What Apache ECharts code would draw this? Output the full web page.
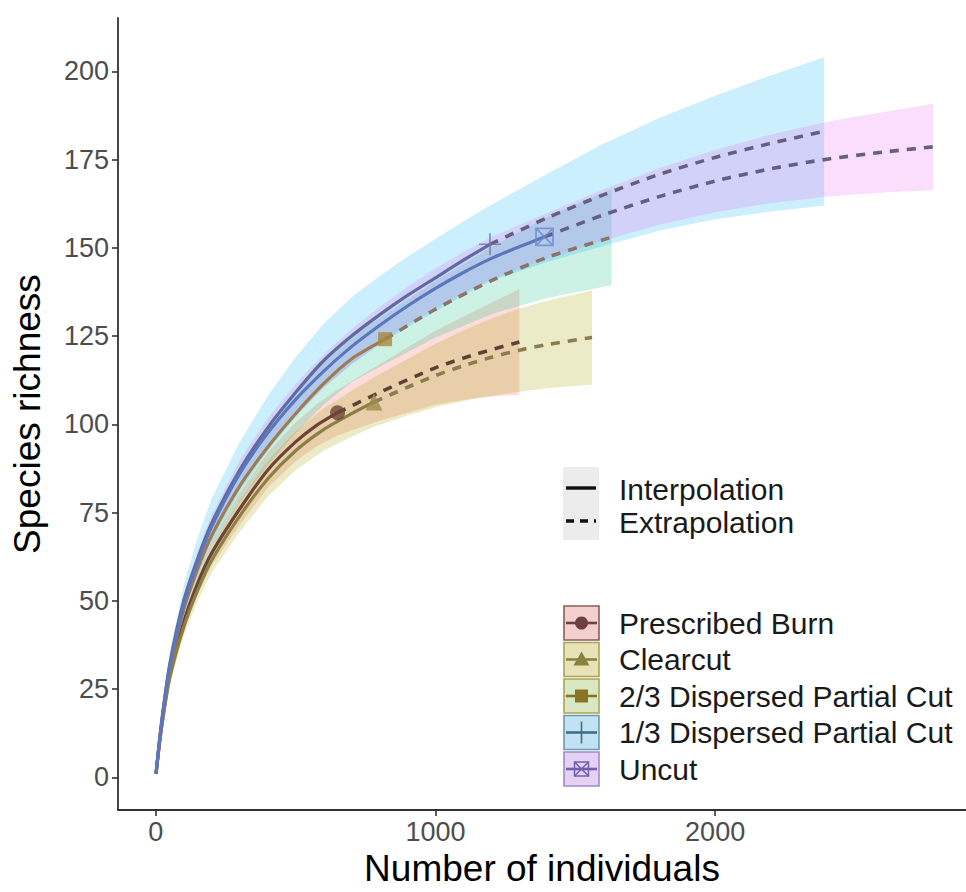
<!DOCTYPE html>
<html>
<head>
<meta charset="utf-8">
<script src="https://cdn.jsdelivr.net/npm/echarts@6/dist/echarts.min.js"></script>
<style>html,body{margin:0;padding:0;background:#fff}#c{width:966px;height:892px}</style>
</head>
<body>
<div id="c"></div>
<script>
// ---------- data ----------
const categories = ['Prescribed Burn', 'Clearcut', '2/3 Dispersed Partial Cut', '1/3 Dispersed Partial Cut', 'Uncut'];
const observedN = [650, 780, 820, 1195, 1390];
const observedS = [103.3, 106.3, 124.1, 151, 153.1];

const burnX   = [1, 20, 50, 100, 150, 200, 300, 400, 500, 575, 650, 800, 1000, 1150, 1300];
const burnS   = [1, 14, 29, 44, 55, 63.5, 76, 87, 95, 99.7, 103.3, 109, 116, 120, 123.3];
const burnLo  = [1, 13, 27.5, 41.5, 52, 60, 71.5, 82, 89.5, 93.7, 96.8, 101, 105.5, 107.5, 108.4];
const burnHi  = [1, 15, 30.5, 46.5, 58, 67, 80.5, 92, 100.5, 105.7, 109.8, 117, 126.5, 132.5, 138.3];

const clearX  = [1, 20, 50, 100, 150, 200, 300, 400, 500, 600, 700, 780, 900, 1000, 1100, 1200, 1300, 1400, 1560];
const clearS  = [1, 13.5, 28, 42.5, 53, 61.5, 74, 84.5, 92.5, 98.5, 103, 106.3, 110.5, 113.8, 116.6, 119.0, 121.0, 122.6, 124.6];
const clearLo = [1, 12.5, 26.5, 40, 50, 58, 69.5, 79.5, 87, 92.5, 96.5, 99.3, 102.5, 104.8, 106.6, 108, 109.2, 110.2, 111.3];
const clearHi = [1, 14.5, 29.5, 45, 56, 65, 78.5, 89.5, 98, 104.5, 109.5, 113.3, 118.5, 122.8, 126.6, 130, 132.8, 135, 137.9];

const twoX    = [1, 20, 50, 100, 150, 200, 300, 400, 500, 600, 700, 820, 1000, 1200, 1400, 1630];
const twoS    = [1, 14.5, 30.5, 47.5, 59, 68.5, 82.5, 93.5, 103, 111.5, 118.5, 124.1, 132.6, 140.7, 147.3, 153.0];
const twoLo   = [1, 13.5, 29, 45, 56, 65, 78, 88.5, 97.5, 105.5, 112, 117.1, 124.6, 131.2, 135.8, 139.4];
const twoHi   = [1, 15.5, 32, 50, 62, 72, 87, 98.5, 108.5, 117.5, 125, 131.1, 140.6, 150.2, 158.8, 166.6];

const oneX    = [1, 20, 50, 100, 150, 200, 300, 400, 500, 600, 700, 800, 900, 1000, 1100, 1195, 1400, 1600, 1800, 2000, 2200, 2390];
const oneS    = [1, 15, 32, 50, 62, 72, 87, 99, 109, 118, 125, 131, 136.5, 141.5, 146.5, 151, 158.5, 165, 170.8, 175.6, 179.6, 183];
const oneLo   = [1, 14, 30, 47, 58, 67, 81, 92.5, 102, 110.5, 117, 122.5, 127.5, 132, 136.5, 140.5, 146, 150.5, 154.8, 158.1, 160.3, 162];
const oneHi   = [1, 16.5, 35, 54.5, 68, 79, 95, 108, 119, 128.5, 136, 142, 147.5, 152.5, 157.5, 162, 171, 179.5, 186.8, 193.1, 198.9, 204];

const uncutX  = [1, 20, 50, 100, 150, 200, 300, 400, 500, 600, 700, 800, 900, 1000, 1100, 1200, 1300, 1390, 1600, 1800, 2000, 2200, 2400, 2600, 2780];
const uncutS  = [1, 15, 31.5, 49, 61, 71, 86, 97.5, 107, 115, 122, 128, 133.5, 138.5, 143, 147, 150.3, 153.1, 159.3, 164.5, 168.9, 172.4, 175.1, 177.1, 178.6];
const uncutLo = [1, 14, 30, 46.5, 58, 67.7, 82.2, 93.3, 102.5, 110.2, 117, 122.8, 128.1, 132.9, 137.2, 141, 144.1, 146.7, 152.1, 156.5, 160.1, 162.7, 164.5, 165.7, 166.4];
const uncutHi = [1, 16, 33, 51.5, 64, 74.3, 89.8, 101.7, 111.5, 119.8, 127, 133.2, 138.9, 144.1, 148.8, 153, 156.5, 159.5, 166.5, 172.5, 177.7, 182.1, 185.7, 188.5, 190.8];

const xTicks = [0, 1000, 2000];
const yTicks = [0, 25, 50, 75, 100, 125, 150, 175, 200];
const methodLabels = ['Interpolation', 'Extrapolation'];

// ---------- styles ----------
const FONT = 'Liberation Sans, Arial, sans-serif';
const bandColors  = ['rgba(248,118,109,0.26)', 'rgba(163,165,0,0.22)', 'rgba(0,191,125,0.20)', 'rgba(0,176,246,0.20)', 'rgba(231,107,243,0.22)'];
const lineColors  = ['#6a4535', '#8c7f45', '#a07a50', '#5d6b9e', '#5b76ba'];
const dashColors  = ['#5e4334', '#8a7d4f', '#8c7468', '#675f82', '#675f82'];
const markColors  = ['#6a4535', '#9a8a4c', '#a8883c', '#6676a4', '#6a8ad0'];
const keyFill     = ['#f3cfcd', '#e7e3b6', '#d9e8c4', '#c0e2f2', '#e6d0f3'];
const keyBorder   = ['#8a5d5a', '#a9a262', '#b0a352', '#6d9ab2', '#9d8cc8'];
const keyMark     = ['#6d3f3f', '#8a8340', '#8a7424', '#3f7088', '#7060b0'];

const PLUS = 'path://M5,0 L5,10 M0,5 L10,5';
const BOXX = 'path://M0,0 L10,0 L10,10 L0,10 Z M0,0 L10,10 M10,0 L0,10';
const symbols = ['circle', 'triangle', 'rect', PLUS, BOXX];
const symbolSizes = [15, 17, 14, 22, 17];

const groups = [
  [burnX, burnS, burnLo, burnHi],
  [clearX, clearS, clearLo, clearHi],
  [twoX, twoS, twoLo, twoHi],
  [oneX, oneS, oneLo, oneHi],
  [uncutX, uncutS, uncutLo, uncutHi]
];

const series = [];
// ribbons
groups.forEach((g, k) => {
  const [xs, , lo, hi] = g;
  series.push({
    type: 'custom', name: categories[k] + ' CI', silent: true, z: 1, clip: true,
    data: xs.map((x, i) => [x, lo[i], hi[i]]),
    encode: { x: 0, y: [1, 2] },
    renderItem: function (params, api) {
      if (params.dataIndex !== 0) return null;
      const pts = [];
      for (let i = 0; i < xs.length; i++) pts.push(api.coord([xs[i], hi[i]]));
      for (let i = xs.length - 1; i >= 0; i--) pts.push(api.coord([xs[i], lo[i]]));
      return { type: 'polygon', shape: { points: pts }, style: { fill: bandColors[k], stroke: null } };
    }
  });
});
// lines
groups.forEach((g, k) => {
  const [xs, s] = g;
  const n = observedN[k];
  const interp = [], extrap = [];
  xs.forEach((x, i) => { if (x <= n) interp.push([x, s[i]]); if (x >= n) extrap.push([x, s[i]]); });
  series.push({
    type: 'line', name: categories[k] + ' ' + methodLabels[0], data: interp, z: 3,
    showSymbol: false, smooth: 0.25, silent: true,
    lineStyle: { color: lineColors[k], width: 3.2 }
  });
  series.push({
    type: 'line', name: categories[k] + ' ' + methodLabels[1], data: extrap, z: 3,
    showSymbol: false, smooth: 0.25, silent: true,
    lineStyle: { color: dashColors[k], width: 3.6, type: [9, 8] }
  });
});
// observed points
categories.forEach((c, k) => {
  const stroke = (k >= 3);
  series.push({
    type: 'scatter', name: c, z: 5, silent: true,
    data: [[observedN[k], observedS[k]]],
    symbol: symbols[k], symbolSize: symbolSizes[k],
    itemStyle: stroke ? { color: 'rgba(0,0,0,0)', borderColor: markColors[k], borderWidth: k === 3 ? 1.6 : 1.8 }
                      : { color: markColors[k] }
  });
});

// ---------- legends (graphic) ----------
const graphic = [];
// method legend
graphic.push({ type: 'rect', shape: { x: 563, y: 467, width: 36, height: 73 }, style: { fill: '#ececec' } });
graphic.push({ type: 'line', shape: { x1: 566, y1: 488, x2: 596, y2: 488 }, style: { stroke: '#111', lineWidth: 3.4 } });
graphic.push({ type: 'line', shape: { x1: 566, y1: 521, x2: 596, y2: 521 }, style: { stroke: '#111', lineWidth: 3.4, lineDash: [8, 6] } });
methodLabels.forEach((t, i) => {
  graphic.push({ type: 'text', style: { text: t, x: 619, y: 489 + i * 33, font: '30px ' + FONT, fill: '#1a1a1a', verticalAlign: 'middle' } });
});
// treatment legend
categories.forEach((c, k) => {
  const top = 606 + k * 36.5;
  const cy = top + 17;
  graphic.push({ type: 'rect', shape: { x: 564, y: top, width: 35, height: 34 }, style: { fill: keyFill[k], stroke: keyBorder[k], lineWidth: 1.6 } });
  graphic.push({ type: 'line', shape: { x1: 566, y1: cy, x2: 597, y2: cy }, style: { stroke: keyMark[k], lineWidth: 2.6 } });
  const cx = 581.5;
  if (k === 0) graphic.push({ type: 'circle', shape: { cx, cy, r: 6.5 }, style: { fill: keyMark[k] } });
  if (k === 1) graphic.push({ type: 'polygon', shape: { points: [[cx, cy - 8], [cx + 8, cy + 6], [cx - 8, cy + 6]] }, style: { fill: keyMark[k] } });
  if (k === 2) graphic.push({ type: 'rect', shape: { x: cx - 6.5, y: cy - 6.5, width: 13, height: 13 }, style: { fill: keyMark[k] } });
  if (k === 3) graphic.push({ type: 'line', shape: { x1: cx, y1: cy - 11, x2: cx, y2: cy + 11 }, style: { stroke: keyMark[k], lineWidth: 1.6 } });
  if (k === 4) {
    graphic.push({ type: 'rect', shape: { x: cx - 7, y: cy - 7, width: 14, height: 14 }, style: { fill: 'none', stroke: keyMark[k], lineWidth: 1.5 } });
    graphic.push({ type: 'polyline', shape: { points: [[cx - 7, cy - 7], [cx + 7, cy + 7]] }, style: { stroke: keyMark[k], lineWidth: 1.5 } });
    graphic.push({ type: 'polyline', shape: { points: [[cx + 7, cy - 7], [cx - 7, cy + 7]] }, style: { stroke: keyMark[k], lineWidth: 1.5 } });
  }
  graphic.push({ type: 'text', style: { text: c, x: 619, y: cy, font: '30px ' + FONT, fill: '#1a1a1a', verticalAlign: 'middle' } });
});

const chart = echarts.init(document.getElementById('c'), null, { renderer: 'svg' });
chart.setOption({
  animation: false,
  backgroundColor: '#ffffff',
  grid: { left: 118, right: 0, top: 18, bottom: 74, containLabel: false },
  xAxis: {
    type: 'value', min: -135, max: 2897,
    name: 'Number of individuals', nameLocation: 'middle', nameGap: 33,
    nameTextStyle: { fontSize: 37, color: '#000', fontFamily: FONT, verticalAlign: 'top' },
    axisLine: { show: true, onZero: false, lineStyle: { color: '#333', width: 1.8 } },
    axisTick: { show: true, length: 6, customValues: xTicks, lineStyle: { color: '#333', width: 1.6 } },
    axisLabel: { customValues: xTicks, margin: 8, fontSize: 27, color: '#4d4d4d', fontFamily: FONT,
                 formatter: function (v) { return String(v); } },
    splitLine: { show: false }
  },
  yAxis: {
    type: 'value', min: -9.3, max: 215.1,
    name: 'Species richness', nameLocation: 'middle', nameGap: 72, nameRotate: 90,
    nameTextStyle: { fontSize: 37, color: '#000', fontFamily: FONT },
    axisLine: { show: true, onZero: false, lineStyle: { color: '#333', width: 1.8 } },
    axisTick: { show: true, length: 6, customValues: yTicks, lineStyle: { color: '#333', width: 1.6 } },
    axisLabel: { customValues: yTicks, margin: 9, fontSize: 27, color: '#4d4d4d', fontFamily: FONT,
                 formatter: function (v) { return String(v); } },
    splitLine: { show: false }
  },
  series: series,
  graphic: graphic
});
</script>
</body>
</html>
